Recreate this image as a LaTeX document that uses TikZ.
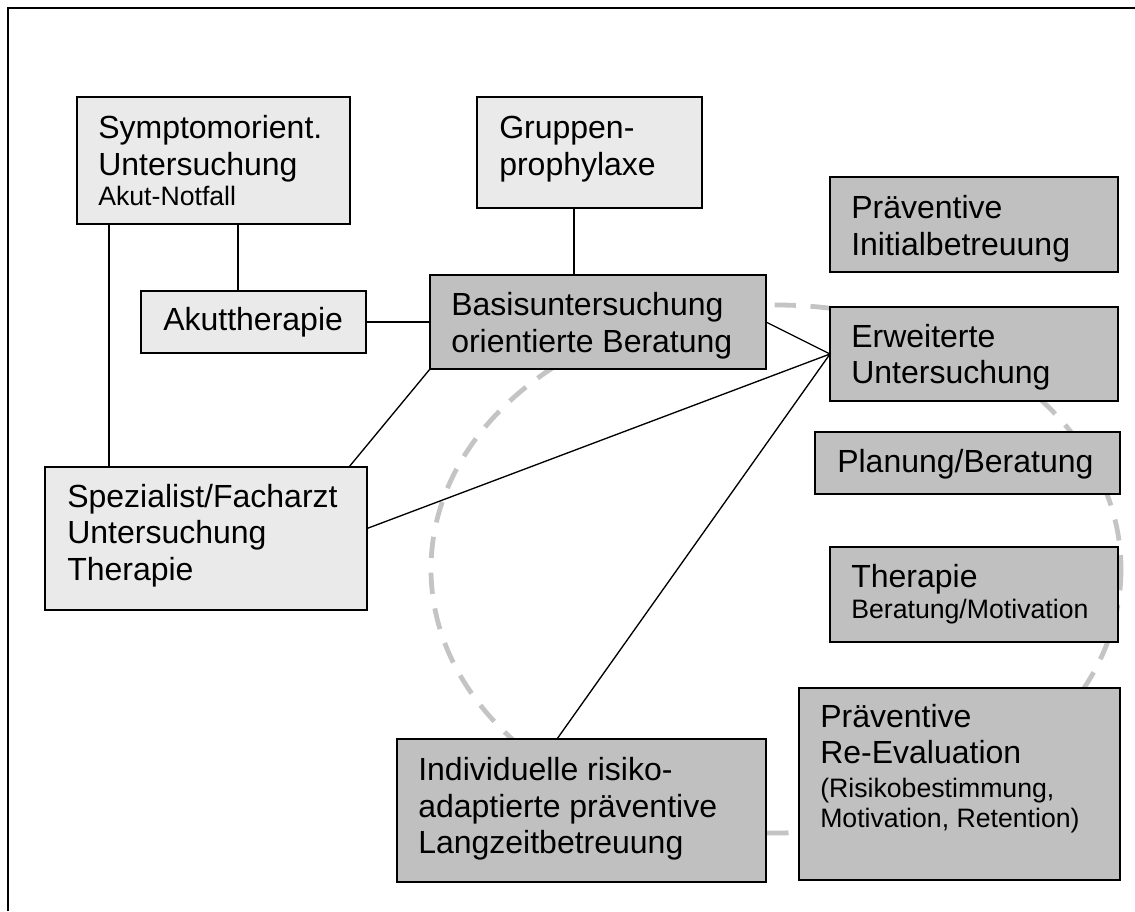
\documentclass[tikz,border=0pt]{standalone}
\usepackage{fontspec}
\setmainfont{Liberation Sans}
\usetikzlibrary{calc}
\definecolor{lightfill}{HTML}{EAEAEA}
\definecolor{darkfill}{HTML}{C0C0C0}
\definecolor{dashgray}{HTML}{C4C4C4}
\tikzset{
  boxbase/.style={draw=black, line width=1.1pt, inner sep=0pt, outer sep=0pt, anchor=north west},
  lbox/.style={boxbase, fill=lightfill},
  dbox/.style={boxbase, fill=darkfill},
  bigt/.style={inner sep=0pt, anchor=base west, font=\fontsize{24}{28}\selectfont},
  smallt/.style={inner sep=0pt, anchor=base west, font=\fontsize{20}{24}\selectfont},
  conn/.style={draw=black, line width=1pt},
  dashring/.style={draw=dashgray, line width=3.6pt, dash pattern=on 16pt off 11pt},
  framebar/.style={draw=black, line width=1.8pt}
}
\begin{document}
\begin{tikzpicture}[x=0.75pt, y=-0.75pt]
\useasboundingbox (0,0) rectangle (1135,911);
% frame (open at right and bottom)
\coordinate (fbl) at (7.8,911);
\coordinate (ftl) at (7.8,7.8);
\coordinate (ftr) at (1135,7.8);
\draw[framebar] (fbl) -- (ftl) -- (ftr);
% dashed ring
\draw[dashring] (776,569) ellipse [x radius=345, y radius=264];
% boxes
\node[lbox, minimum width=273*0.75pt, minimum height=127*0.75pt] (symp) at (77,97) {};
\node[lbox, minimum width=225*0.75pt, minimum height=111*0.75pt] (grp) at (477,97) {};
\node[lbox, minimum width=225*0.75pt, minimum height=62*0.75pt] (akut) at (141,291) {};
\node[dbox, minimum width=336*0.75pt, minimum height=94*0.75pt] (basis) at (430,275) {};
\node[dbox, minimum width=288*0.75pt, minimum height=95*0.75pt] (init) at (830,177) {};
\node[dbox, minimum width=288*0.75pt, minimum height=94*0.75pt] (erw) at (830,307) {};
\node[dbox, minimum width=305*0.75pt, minimum height=62*0.75pt] (plan) at (815,432) {};
\node[dbox, minimum width=288*0.75pt, minimum height=95*0.75pt] (ther) at (830,547) {};
\node[dbox, minimum width=321*0.75pt, minimum height=192*0.75pt] (reev) at (799,688) {};
\node[dbox, minimum width=369*0.75pt, minimum height=143*0.75pt] (indiv) at (397,739) {};
\node[lbox, minimum width=322*0.75pt, minimum height=143*0.75pt] (spez) at (45,467) {};
% texts
\node[bigt] (sympA) at (98,138) {Symptomorient.};
\node[bigt] (sympB) at (98,175) {Untersuchung};
\node[smallt] (sympC) at (98,205) {Akut-Notfall};
\node[bigt] (grpA) at (499,138) {Gruppen-};
\node[bigt] (grpB) at (499,175) {prophylaxe};
\node[bigt] (akutA) at (163,330) {Akuttherapie};
\node[bigt] (basisA) at (451,315) {Basisuntersuchung};
\node[bigt] (basisB) at (451,352) {orientierte Beratung};
\node[bigt] (initA) at (851,218) {Präventive};
\node[bigt] (initB) at (851,255) {Initialbetreuung};
\node[bigt] (erwA) at (851,347) {Erweiterte};
\node[bigt] (erwB) at (851,383) {Untersuchung};
\node[bigt] (planA) at (837,472) {Planung/Beratung};
\node[bigt] (therA) at (851,587) {Therapie};
\node[smallt] (therB) at (851,618) {Beratung/Motivation};
\node[bigt] (reevA) at (820,727) {Präventive};
\node[bigt] (reevB) at (820,763) {Re-Evaluation};
\node[smallt] (reevC) at (820,797) {(Risikobestimmung,};
\node[smallt] (reevD) at (820,827) {Motivation, Retention)};
\node[bigt] (indivA) at (418,780) {Individuelle risiko-};
\node[bigt] (indivB) at (418,817) {adaptierte präventive};
\node[bigt] (indivC) at (418,853) {Langzeitbetreuung};
\node[bigt] (spezA) at (67,507) {Spezialist/Facharzt};
\node[bigt] (spezB) at (67,543) {Untersuchung};
\node[bigt] (spezC) at (67,580) {Therapie};
% connectors
\draw[conn] ($(symp.south west)+(32,0)$) -- ($(spez.north west)+(64,0)$);
\draw[conn] ($(symp.south west)+(161,0)$) -- ($(akut.north west)+(97,0)$);
\draw[conn] (akut.east) -- (basis.west);
\draw[conn] ($(grp.south west)+(97,0)$) -- ($(basis.north west)+(144,0)$);
\draw[conn] (basis.south west) -- ($(spez.north east)+(-18,0)$);
\draw[conn] (basis.east) -- (erw.west);
\draw[conn] ($(spez.east)+(0,-10)$) -- (erw.west);
\draw[conn] (erw.west) -- ($(indiv.north west)+(160,0)$);
\end{tikzpicture}
\end{document}
